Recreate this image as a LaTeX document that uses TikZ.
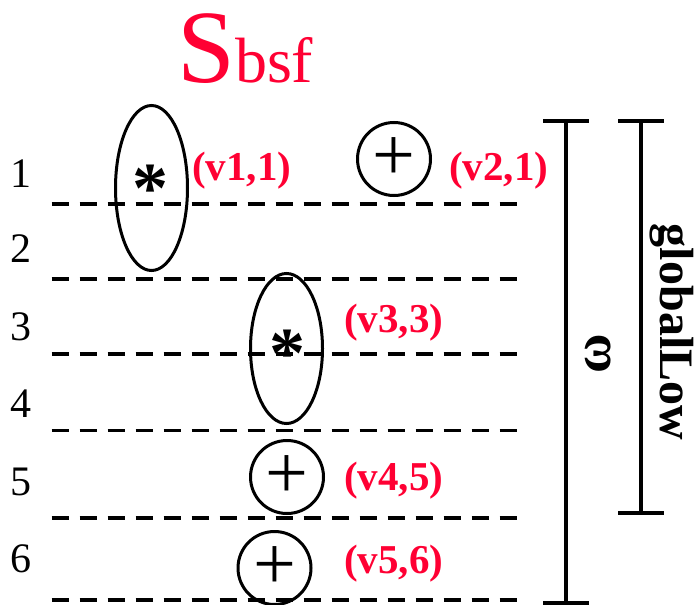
\documentclass[tikz,border=0pt]{standalone}
\usepackage{fontspec}
\setmainfont{Liberation Serif}
\newfontfamily\titlefont{Liberation Serif}
\usetikzlibrary{positioning, shapes.geometric}
\definecolor{hotred}{HTML}{FF0033}
\tikzset{
  rownum/.style={font=\fontsize{42}{42}\selectfont, anchor=base, inner sep=0pt},
  tag/.style={font=\bfseries\fontsize{41}{41}\selectfont, text=hotred, anchor=base west, inner sep=0pt},
  grp/.style={ellipse, draw, line width=3pt, inner sep=0pt, minimum width=72pt},
  cand/.style={circle, draw, line width=3pt, minimum size=73pt, inner sep=0pt,
               font=\fontsize{76}{76}\selectfont},
  glyphast/.style={font=\bfseries\fontsize{72}{72}\selectfont, inner sep=0pt, anchor=north},
  rowline/.style={dash pattern=on 17pt off 11pt, line width=3.5pt},
  extent/.style={line width=3.5pt},
  spanlbl/.style={font=\bfseries\fontsize{48}{48}\selectfont, inner sep=0pt},
}
\begin{document}
\begin{tikzpicture}[x=1pt, y=-1pt]
    \useasboundingbox (0,0) rectangle (699,605);
    % title
    \node[anchor=base west, inner sep=0pt, text=hotred, font=\titlefont\fontsize{104}{104}\selectfont]
        (title) at (177,82) {S{\fontsize{64}{64}\selectfont bsf}};
    % rows
    \foreach \i/\y/\ly in {1/187/204, 2/262/279, 3/340/354, 4/417/430.7, 5/495/518, 6/572/600}{
        \node[rownum] (r\i) at (21,\y) {\i};
        \draw[rowline] (51.7,\ly) -- (516.7,\ly);
    }
    % groups
    \node[grp, minimum height=165pt] (e1) at (151.5,188) {};
    \node[grp, minimum height=150pt] (e2) at (286.5,348.5) {};
    \node[glyphast] (a1) at (150,165) {*};
    \node[glyphast] (a2) at (287,330) {*};
    % single vertices
    \node[cand] (c1) at (394,159) {\raisebox{-4pt}{+}};
    \node[cand] (c2) at (287,477) {\raisebox{-5pt}{+}};
    \node[cand] (c3) at (274.5,568) {\raisebox{-5pt}{+}};
    % labels
    \node[tag] (l1) at (192,180) {(v1,1)};
    \node[tag] (l2) at (449,180) {(v2,1)};
    \node[tag] (l3) at (344,332) {(v3,3)};
    \node[tag] (l4) at (344,490) {(v4,5)};
    \node[tag] (l5) at (344,573) {(v5,6)};
    % spans
    \coordinate (wtop) at (566,121);
    \coordinate (wbot) at (566,603);
    \coordinate (gtop) at (641,121);
    \coordinate (gbot) at (641,513);
    \draw[extent] (wtop) -- (wbot);
    \draw[extent] (gtop) -- (gbot);
    \foreach \c in {wtop, wbot, gtop, gbot}
        \draw[extent] ([xshift=-23pt]\c) -- ([xshift=23pt]\c);
    \node[spanlbl, font=\bfseries\fontsize{54}{54}\selectfont, rotate=90] (omega) at (598,354) {ω};
    \node[spanlbl, rotate=-90] (glow) at (672,332) {globalLow};
\end{tikzpicture}
\end{document}
